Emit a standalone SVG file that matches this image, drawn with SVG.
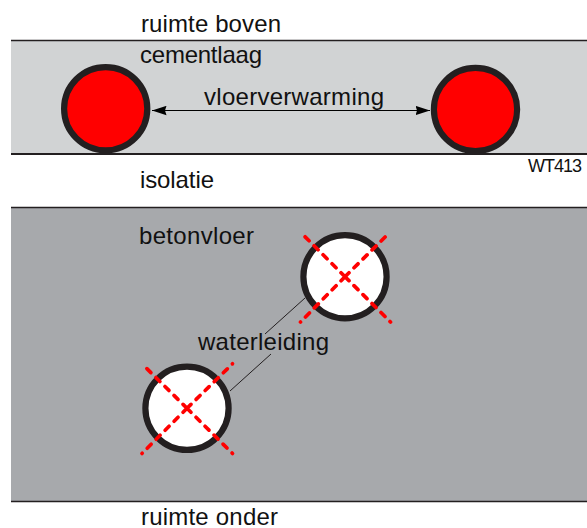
<svg xmlns="http://www.w3.org/2000/svg" width="587" height="528" viewBox="0 0 587 528">
<style>
text{font-family:"Liberation Sans",Arial,sans-serif;font-size:24px;fill:#111}
.small{font-size:18px}
.pipe{stroke:#231f20;stroke-width:6.200}
.x{stroke:#f00;stroke-width:3.700;stroke-dasharray:5.600 7.100;fill:none;stroke-linecap:round}
.lead{stroke:#231f20;stroke-width:1;fill:none}
</style>
<defs>
<marker id="a" markerUnits="userSpaceOnUse" markerWidth="15" markerHeight="10" refX="14.500" refY="5" orient="auto-start-reverse"><path d="M0 .300L14.500 5L0 9.700L1.500 5Z" fill="#000"/></marker>
</defs>
<g id="cementlaag"><rect x="11" y="40" width="576" height="114" fill="#d1d3d4"/></g>
<g id="betonvloer"><rect x="11" y="207" width="576" height="294" fill="#a7a9ac"/></g>
<g id="lijnen" stroke="#231f20">
<path d="M11 40.500H587" stroke-width="1.300"/>
<path d="M11 154H587" stroke-width="2"/>
<path d="M11 207.500H587" stroke-width="1.300"/>
<path d="M11 501.500H587" stroke-width="1.300"/>
</g>
<g id="connectors">
<path d="M152 110.500H430" stroke="#000" stroke-width="1.200" marker-start="url(#a)" marker-end="url(#a)"/>
<path class="lead" d="M305 298L265 334M271 354L230 391"/>
</g>
<g id="buis-links"><circle class="pipe" cx="105.700" cy="108.700" r="41.600" fill="#f00"/></g>
<g id="buis-rechts"><circle class="pipe" cx="475.500" cy="109.500" r="41.600" fill="#f00"/></g>
<g id="leiding-boven"><circle class="pipe" cx="345" cy="276.700" r="41.600" fill="#fff"/><path class="x" d="M345 276.700L300.500 232.200M345 276.700L390 232.200M345 276.700L300.500 322M345 276.700L390.500 322"/></g>
<g id="leiding-onder"><circle class="pipe" cx="187" cy="408.300" r="41.600" fill="#fff"/><path class="x" d="M187 408.300L142 363.800M187 408.300L232.500 363.800M187 408.300L142 453.500M187 408.300L232.500 453.500"/></g>
<g id="labels">
<text x="141" y="32" textLength="140" lengthAdjust="spacing">ruimte boven</text>
<text x="140" y="63" textLength="122" lengthAdjust="spacing">cementlaag</text>
<text x="204" y="105" textLength="180" lengthAdjust="spacing">vloerverwarming</text>
<text x="140" y="188" textLength="74" lengthAdjust="spacing">isolatie</text>
<text class="small" x="528" y="172" textLength="54" lengthAdjust="spacing">WT413</text>
<text x="139" y="244" textLength="115" lengthAdjust="spacing">betonvloer</text>
<text x="198" y="350" textLength="131" lengthAdjust="spacing">waterleiding</text>
<text x="141" y="525" textLength="137" lengthAdjust="spacing">ruimte onder</text>
</g>
</svg>
